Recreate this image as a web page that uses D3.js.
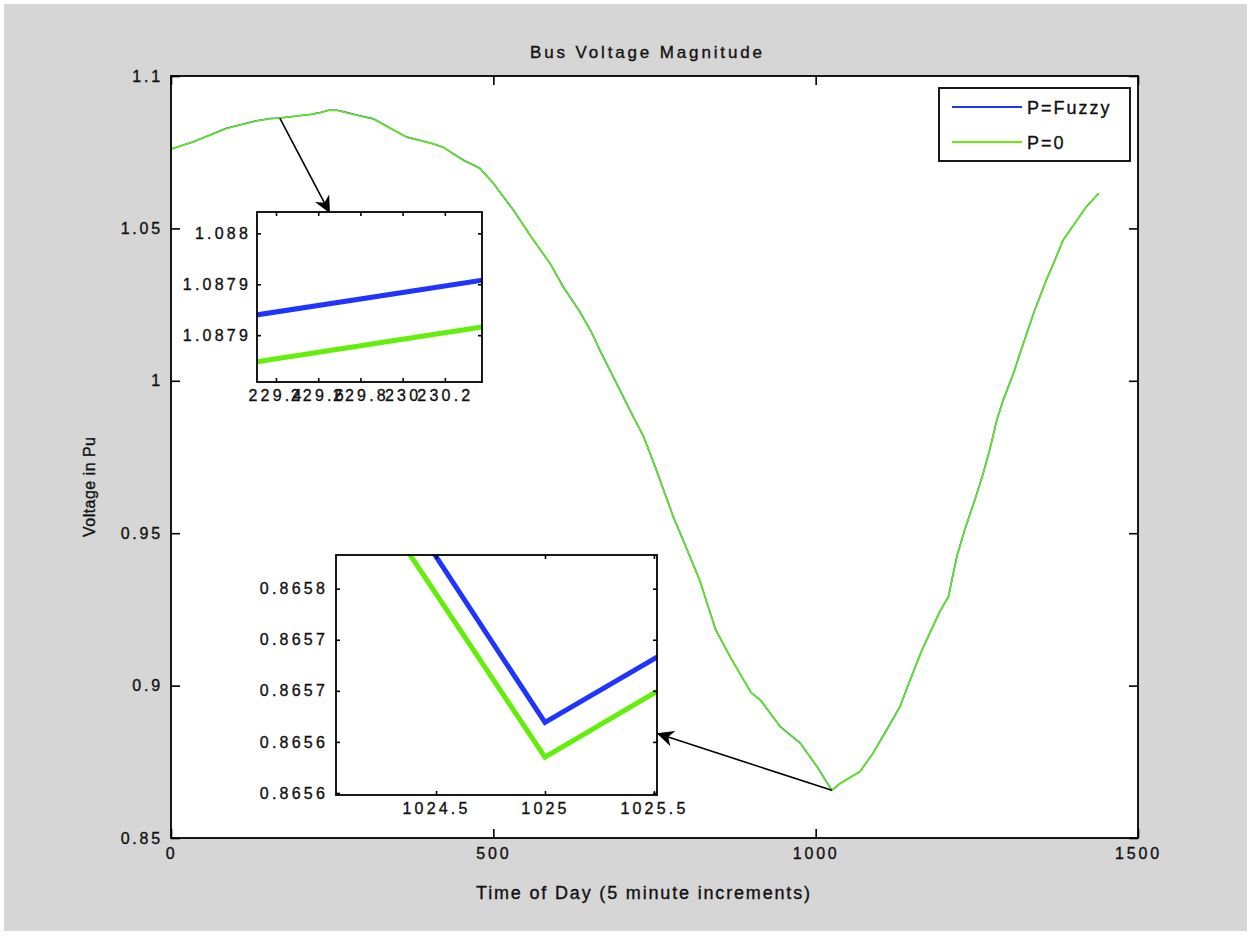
<!DOCTYPE html>
<html>
<head>
<meta charset="utf-8">
<script src="https://cdn.jsdelivr.net/npm/d3@7"></script>
<style>
  html, body { margin: 0; padding: 0; background: #ffffff; }
  svg { display: block; }
  text { font-family: "Liberation Sans", Arial, sans-serif; fill: #111; stroke: #111; stroke-width: 0.35px; }
</style>
</head>
<body>
<svg id="fig" width="1252" height="936"></svg>
<script>
// ---- data: time of day (5-minute samples) and bus voltage (pu) ----
const timeOfDay = [0, 35, 86, 133, 154, 169, 218, 229, 230, 231, 244, 258, 270, 293, 314, 345, 366, 404, 422, 453,
  479, 500, 531, 562, 588, 608, 634, 653, 665, 691, 717, 733, 751, 764, 779, 792, 820, 845, 870, 900,
  914, 945, 976, 1002, 1024, 1025, 1026, 1038, 1069, 1089, 1110, 1131, 1143, 1165, 1192, 1206, 1219, 1232, 1247, 1260,
  1270, 1281, 1291, 1307, 1317, 1338, 1358, 1369, 1384, 1420, 1439];

const voltageP0 = [1.07600, 1.07840, 1.08280, 1.08530, 1.08600, 1.08620, 1.08740, 1.087864, 1.087896, 1.087928, 1.08870, 1.08870, 1.08810, 1.08690, 1.08590, 1.08230, 1.07990, 1.07790, 1.07660, 1.07240,
  1.06970, 1.06480, 1.05600, 1.04620, 1.03850, 1.03090, 1.02270, 1.01560, 1.01010, 0.99920, 0.98820, 0.98170, 0.97180, 0.96420, 0.95540, 0.94890, 0.93460, 0.91820, 0.90840, 0.89760,
  0.89530, 0.88650, 0.88110, 0.87340, 0.865955, 0.865635, 0.8657605, 0.86790, 0.87180, 0.87780, 0.88540, 0.89310, 0.89990, 0.91170, 0.92400, 0.92920, 0.94230, 0.95160, 0.96090, 0.96970,
  0.97730, 0.98710, 0.99370, 1.00250, 1.00900, 1.02210, 1.03310, 1.03850, 1.04620, 1.05710, 1.06150];

const voltageFuzzy = [1.07604, 1.07844, 1.08284, 1.08534, 1.08604, 1.08624, 1.08744, 1.087910, 1.087942, 1.087974, 1.08874, 1.08874, 1.08814, 1.08694, 1.08594, 1.08234, 1.07994, 1.07794, 1.07664, 1.07244,
  1.06974, 1.06484, 1.05604, 1.04624, 1.03854, 1.03094, 1.02274, 1.01564, 1.01014, 0.99924, 0.98824, 0.98174, 0.97184, 0.96424, 0.95544, 0.94894, 0.93464, 0.91824, 0.90844, 0.89764,
  0.89534, 0.88654, 0.88114, 0.87344, 0.865994, 0.865669, 0.8657935, 0.86794, 0.87184, 0.87784, 0.88544, 0.89314, 0.89994, 0.91174, 0.92404, 0.92924, 0.94234, 0.95164, 0.96094, 0.96974,
  0.97734, 0.98714, 0.99374, 1.00254, 1.00904, 1.02214, 1.03314, 1.03854, 1.04624, 1.05714, 1.06154];

const seriesNames = ["P=Fuzzy", "P=0"];

// main axes ticks
const mainXTicks = [0, 500, 1000, 1500];
const mainYTicks = [0.85, 0.9, 0.95, 1, 1.05, 1.1];
const mainYTickLabels = ["0.85", "0.9", "0.95", "1", "1.05", "1.1"];

// zoom near the morning peak
const peakXDomain = [229.31, 230.376];
const peakYDomain = [1.087854, 1.088021];
const peakXTicks = [229.4, 229.6, 229.8, 230, 230.2];
const peakXTickLabels = ["229.4", "229.6", "229.8", "230", "230.2"];
const peakYTicks = [1.0879, 1.08795, 1.088];
const peakYTickLabels = ["1.0879", "1.0879", "1.088"];

// zoom near the evening minimum
const dipXDomain = [1024.041, 1025.514];
const dipYDomain = [0.865598, 0.865833];
const dipXTicks = [1024.5, 1025, 1025.5];
const dipXTickLabels = ["1024.5", "1025", "1025.5"];
const dipYTicks = [0.8656, 0.86565, 0.8657, 0.86575, 0.8658];
const dipYTickLabels = ["0.8656", "0.8656", "0.8657", "0.8657", "0.8658"];

// arrows: [from (time, volts), to (time, volts)] in main-axes units
const peakArrow = [[169, 1.0861], [246.6, 1.05495]];
const dipArrow = [[1025, 0.86565], [753.4, 0.88435]];

// ---- styling ----
const colFuzzy = "#1f35ff";
const colP0 = "#62f00a";
const figBg = "#d6d6d6";

const svg = d3.select("#fig");

svg.append("rect").attr("x", 4).attr("y", 4).attr("width", 1243).attr("height", 927).attr("fill", figBg);

const series = [
  { name: seriesNames[0], values: voltageFuzzy, color: colFuzzy },
  { name: seriesNames[1], values: voltageP0, color: colP0 }
];

const defs = svg.append("defs");
defs.append("marker")
  .attr("id", "head")
  .attr("viewBox", "-18 -9 20 18")
  .attr("refX", 0).attr("refY", 0)
  .attr("markerWidth", 20).attr("markerHeight", 18)
  .attr("markerUnits", "userSpaceOnUse")
  .attr("orient", "auto")
  .append("path")
  .attr("d", "M0,0 L-17,-8 L-12,0 L-17,8 Z")
  .attr("fill", "#000");

// draws one set of axes with lines, ticks on all four sides
function drawAxes(opts) {
  const { id, box, xDomain, yDomain, xTicks, xLabels, yTicks, yLabels, lineWidth, tick, fontSize, spacing } = opts;
  const x = d3.scaleLinear().domain(xDomain).range([box.x0, box.x1]);
  const y = d3.scaleLinear().domain(yDomain).range([box.y1, box.y0]);
  const g = svg.append("g").attr("class", id);

  g.append("rect")
    .attr("x", box.x0).attr("y", box.y0)
    .attr("width", box.x1 - box.x0).attr("height", box.y1 - box.y0)
    .attr("fill", "#fff");

  defs.append("clipPath").attr("id", "clip-" + id)
    .append("rect")
    .attr("x", box.x0).attr("y", box.y0)
    .attr("width", box.x1 - box.x0).attr("height", box.y1 - box.y0);

  const line = d3.line().x((d, i) => x(timeOfDay[i])).y(d => y(d));
  const lg = g.append("g").attr("clip-path", `url(#clip-${id})`);
  series.forEach(s => {
    lg.append("path")
      .datum(s.values)
      .attr("d", line)
      .attr("fill", "none")
      .attr("stroke", s.color)
      .attr("stroke-width", lineWidth)
      .attr("stroke-linejoin", "miter");
  });

  const fmtX = d => xLabels[xTicks.indexOf(d)];
  const fmtY = d => yLabels[yTicks.indexOf(d)];

  const ax = [
    { a: d3.axisBottom(x).tickValues(xTicks).tickFormat(fmtX), t: `translate(0,${box.y1})`, pad: spacing.padX },
    { a: d3.axisTop(x).tickValues(xTicks).tickFormat(""), t: `translate(0,${box.y0})`, pad: 3 },
    { a: d3.axisLeft(y).tickValues(yTicks).tickFormat(fmtY), t: `translate(${box.x0},0)`, pad: spacing.padY },
    { a: d3.axisRight(y).tickValues(yTicks).tickFormat(""), t: `translate(${box.x1},0)`, pad: 3 }
  ];
  ax.forEach(o => {
    const ag = g.append("g").attr("transform", o.t)
      .call(o.a.tickSizeInner(-tick).tickSizeOuter(0).tickPadding(o.pad));
    ag.select(".domain").remove();
    ag.selectAll("line").attr("stroke", "#000").attr("stroke-width", 1.6);
    ag.selectAll("text")
      .attr("font-size", fontSize)
      .style("letter-spacing", spacing.ls + "px")
      .attr("font-family", null)
      .attr("fill", null);
  });

  g.append("rect")
    .attr("x", box.x0).attr("y", box.y0)
    .attr("width", box.x1 - box.x0).attr("height", box.y1 - box.y0)
    .attr("fill", "none").attr("stroke", "#000").attr("stroke-width", 1.8);

  return { x, y, g };
}

// ---- main axes ----
const main = drawAxes({
  id: "main",
  box: { x0: 171, x1: 1138, y0: 76, y1: 838 },
  xDomain: [0, 1500], yDomain: [0.85, 1.1],
  xTicks: mainXTicks, xLabels: mainXTicks.map(String),
  yTicks: mainYTicks, yLabels: mainYTickLabels,
  lineWidth: 1.6, tick: 9, fontSize: 16, spacing: { padX: 10, padY: 8, ls: 2.8 }
});

// titles
svg.append("text")
  .attr("x", 646).attr("y", 58)
  .attr("text-anchor", "middle")
  .attr("font-size", 17)
  .attr("textLength", 232).attr("lengthAdjust", "spacing")
  .text("Bus Voltage Magnitude");

svg.append("text")
  .attr("x", 643).attr("y", 899)
  .attr("text-anchor", "middle")
  .attr("font-size", 18)
  .attr("textLength", 334).attr("lengthAdjust", "spacing")
  .text("Time of Day (5 minute increments)");

svg.append("text")
  .attr("transform", "translate(95,487) rotate(-90)")
  .attr("text-anchor", "middle")
  .attr("font-size", 16)
  .attr("textLength", 100).attr("lengthAdjust", "spacing")
  .text("Voltage in Pu");

// legend
const leg = svg.append("g");
leg.append("rect")
  .attr("x", 939).attr("y", 88).attr("width", 191).attr("height", 73)
  .attr("fill", "#fff").attr("stroke", "#000").attr("stroke-width", 1.8);
series.forEach((s, i) => {
  const yy = 107 + i * 35;
  leg.append("line").attr("x1", 952).attr("x2", 1022).attr("y1", yy).attr("y2", yy)
    .attr("stroke", s.color).attr("stroke-width", 2);
  leg.append("text").attr("x", 1027).attr("y", yy + 7)
    .attr("font-size", 18).style("letter-spacing", "2px")
    .text(s.name);
});

// arrows from the curve to the magnified views
[peakArrow, dipArrow].forEach(a => {
  svg.append("line")
    .attr("x1", main.x(a[0][0])).attr("y1", main.y(a[0][1]))
    .attr("x2", main.x(a[1][0])).attr("y2", main.y(a[1][1]))
    .attr("stroke", "#000").attr("stroke-width", 1.6)
    .attr("marker-end", "url(#head)");
});

// ---- magnified views ----
drawAxes({
  id: "peak",
  box: { x0: 257, x1: 482, y0: 212, y1: 382 },
  xDomain: peakXDomain, yDomain: peakYDomain,
  xTicks: peakXTicks, xLabels: peakXTickLabels,
  yTicks: peakYTicks, yLabels: peakYTickLabels,
  lineWidth: 5, tick: 4, fontSize: 16, spacing: { padX: 8, padY: 6, ls: 3.2 }
});

drawAxes({
  id: "dip",
  box: { x0: 336, x1: 657, y0: 555, y1: 795 },
  xDomain: dipXDomain, yDomain: dipYDomain,
  xTicks: dipXTicks, xLabels: dipXTickLabels,
  yTicks: dipYTicks, yLabels: dipYTickLabels,
  lineWidth: 5, tick: 4, fontSize: 16, spacing: { padX: 8, padY: 8, ls: 3.2 }
});
</script>
</body>
</html>
